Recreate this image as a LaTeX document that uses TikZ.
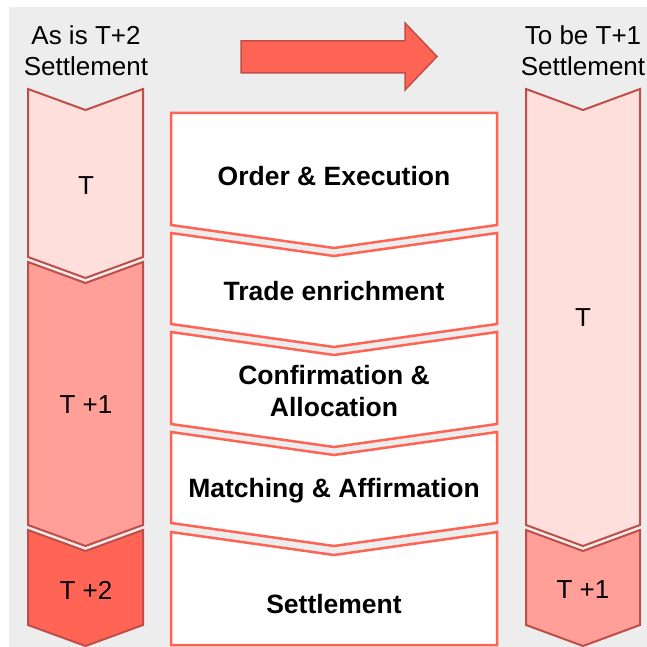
\documentclass[tikz,border=0pt]{standalone}
\usepackage{fontspec}
\setmainfont{Liberation Sans}
\usepackage{xcolor}
\usetikzlibrary{positioning}

\definecolor{bggrey}{HTML}{EDEDED}
\definecolor{darkrim}{HTML}{BF4E49}
\definecolor{lightrim}{HTML}{FF6354}
\definecolor{paleday}{HTML}{FFDFDB}
\definecolor{midday}{HTML}{FF9F97}
\definecolor{strongday}{HTML}{FF6454}

\tikzset{
    daychev/.style={draw=darkrim, line width=2pt, line join=miter},
    stagebox/.style={draw=lightrim, fill=white, line width=2.5pt, line join=miter},
    daytext/.style={font=\fontsize{26}{31}\selectfont, align=center},
    stagetext/.style={font=\fontsize{26.5}{32}\selectfont\bfseries, align=center},
}

\begin{document}
\begin{tikzpicture}[x=1pt, y=-1pt]
    \useasboundingbox (0,0) rectangle (647,647);
    \fill[bggrey] (9,7) rectangle (647,647);

    % As is column
    \draw[daychev, fill=paleday] (28,89) -- (85.5,110) -- (143,89) -- (143,257) -- (85.5,278) -- (28,257) -- cycle;
    \draw[daychev, fill=midday] (28,262) -- (85.5,283) -- (143,262) -- (143,525) -- (85.5,546) -- (28,525) -- cycle;
    \draw[daychev, fill=strongday] (28,530) -- (85.5,551) -- (143,530) -- (143,625) -- (85.5,646) -- (28,625) -- cycle;

    % To be column
    \draw[daychev, fill=paleday] (526,89) -- (583,110) -- (640,89) -- (640,525) -- (583,546) -- (526,525) -- cycle;
    \draw[daychev, fill=midday] (526,530) -- (583,551) -- (640,530) -- (640,625) -- (583,646) -- (526,625) -- cycle;

    % Process stages
    \draw[stagebox] (171,113) -- (497,113) -- (497,225) -- (334,248) -- (171,225) -- cycle;
    \draw[stagebox] (171,233) -- (334,256) -- (497,233) -- (497,324) -- (334,347) -- (171,324) -- cycle;
    \draw[stagebox] (171,332) -- (334,355) -- (497,332) -- (497,424) -- (334,447) -- (171,424) -- cycle;
    \draw[stagebox] (171,432) -- (334,455) -- (497,432) -- (497,523) -- (334,546) -- (171,523) -- cycle;
    \draw[stagebox] (171,532) -- (334,555) -- (497,532) -- (497,645) -- (171,645) -- cycle;

    % Big arrow
    \draw[draw=darkrim, fill=strongday, line width=1.5pt, line join=miter]
        (241,41) -- (405,41) -- (405,23) -- (437,56.5) -- (405,90) -- (405,73) -- (241,73) -- cycle;

    % Headings
    \node[daytext] (asis) at (86,51) {As is T+2\\Settlement};
    \node[daytext] (tobe) at (583,51) {To be T+1\\Settlement};

    % Day labels
    \node[daytext] (asT) at (86,186) {T};
    \node[daytext] (asT1) at (86,405) {T +1};
    \node[daytext] (asT2) at (86,590) {T +2};
    \node[daytext] (tbT) at (583,318) {T};
    \node[daytext] (tbT1) at (583,590) {T +1};

    % Stage labels
    \node[stagetext] (order) at (334,176) {Order \& Execution};
    \node[stagetext] (enrich) at (334,291) {Trade enrichment};
    \node[stagetext] (confirm) at (334,391) {Confirmation \&\\Allocation};
    \node[stagetext] (match) at (334,491) {Matching \& Affirmation};
    \node[stagetext] (settle) at (334,604) {Settlement};
\end{tikzpicture}
\end{document}
